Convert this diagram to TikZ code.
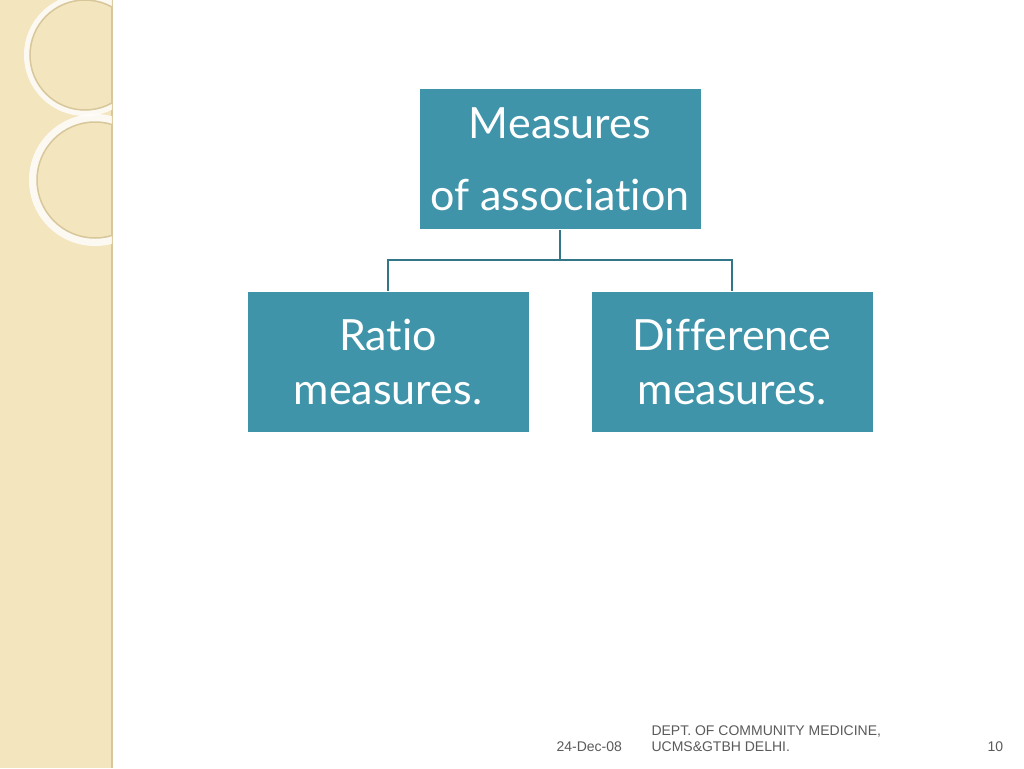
\documentclass[tikz,border=0pt]{standalone}
\usepackage{fontspec}
\setmainfont[Ligatures=NoCommon]{Lato}
\newfontfamily\footfont{Liberation Sans}
\definecolor{teal1}{HTML}{3F94AA}
\definecolor{beige}{HTML}{F3E5BE}
\definecolor{beigeline}{HTML}{D8C79A}
\definecolor{footc}{HTML}{5A5A5A}
\tikzset{box/.style={fill=teal1,draw=white,line width=1pt,minimum width=282pt,minimum height=141pt,text=white,align=center,font=\fontsize{43}{54}\selectfont,inner sep=0pt},
link/.style={draw=teal1!80!black,line width=2.5pt},
foot/.style={text=footc,font=\footfont\fontsize{14}{16}\selectfont,anchor=south west,align=left}}
\begin{document}
\begin{tikzpicture}[x=1pt,y=-1pt]
\useasboundingbox (0,0) rectangle (1024,768);
\fill[white] (0,0) rectangle (1024,768);
\fill[beige] (0,0) rectangle (112,768);
\draw[beigeline,line width=1.5pt] (112,0) -- (112,768);
\begin{scope}
\clip (0,0) rectangle (112,768);
\draw[white,line width=6pt,opacity=0.8] (85,55) circle (58);
\draw[beigeline,line width=1.5pt] (85,55) circle (55);
\draw[white,line width=8pt,opacity=0.8] (95,180) circle (62);
\draw[beigeline,line width=1.5pt] (95,180) circle (58);
\end{scope}
\node[box,font=\fontsize{43}{72}\selectfont] (top) at (560,159) {Measures\\of association};
\node[box] (left) at (388,362) {Ratio\\measures.};
\node[box] (right) at (732,362) {Difference\\measures.};
\coordinate (mid) at (560,260);
\draw[link] (top.south) -- (mid) -| (left.north);
\draw[link] (mid) -| (right.north);
\node[foot] (date) at (553,755) {24-Dec-08};
\node[foot] (dept) at (648,755) {DEPT. OF COMMUNITY MEDICINE,\\UCMS\&GTBH DELHI.};
\node[foot] (num) at (984,755) {10};
\end{tikzpicture}
\end{document}
